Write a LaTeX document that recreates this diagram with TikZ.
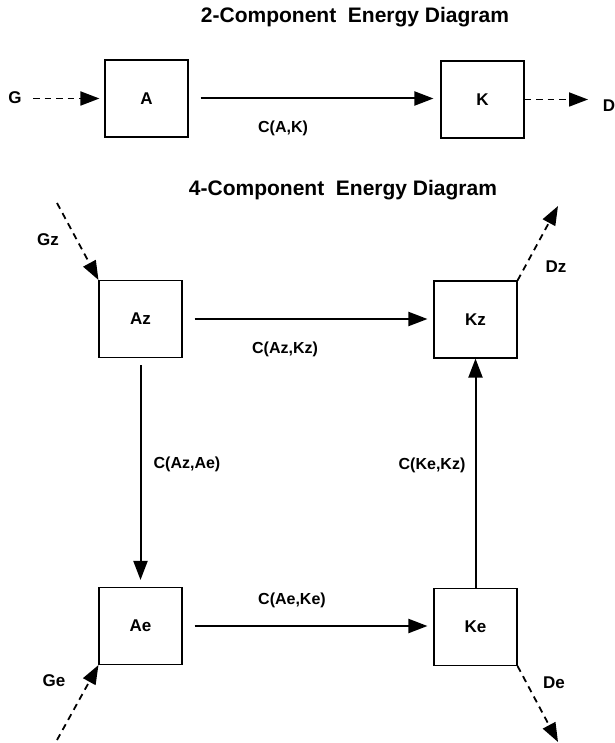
\documentclass[tikz,border=0pt]{standalone}
\usepackage{fontspec}
\setmainfont{Liberation Sans}
\usepackage{tikz}
\usetikzlibrary{positioning,arrows.meta}
\newcommand{\titlefont}{\fontsize{21}{25}\selectfont\bfseries}
\newcommand{\labfont}{\fontsize{17}{20}\selectfont\bfseries}
\newcommand{\cfont}{\fontsize{16}{19}\selectfont\bfseries}

\begin{document}
\begin{tikzpicture}[
                x=1pt, y=-1pt,
                >={Triangle[length=19pt, width=14pt]},
                comp/.style={draw, line width=1.1pt, minimum width=83pt, minimum height=77pt, inner sep=0pt, font=\labfont},
                endlabel/.style={font=\labfont, inner sep=0pt},
                clabel/.style={font=\cfont, inner sep=0pt},
                heading/.style={font=\titlefont, inner sep=0pt},
                flow/.style={->, line width=2pt},
                flowdash/.style={->, line width=1.8pt, dash pattern=on 6.5pt off 5pt}
                ]
                \useasboundingbox (0,0) rectangle (614,743);

                % 2-component diagram
                \node[heading] (title2) at (355,17) {2-Component\ \ Energy Diagram};
                \node[comp] (A) at (146.5,98.5) {A};
                \node[comp] (K) at (482.5,99.5) {K};
                \node[endlabel] (G) at (15,98) {G};
                \node[endlabel] (D) at (609,106) {D};
                \coordinate (gin) at (33,98.5);
                \coordinate (dout) at (588,99.5);
                \node[clabel] (cak) at (283,128) {C(A,K)};

                \draw[flowdash, shorten >=5pt] (gin) -- (A.west);
                \draw[flow, shorten <=12pt, shorten >=7pt] (A.east) -- (K.west |- A.east);
                \draw[flowdash] (K.east) -- (dout);

                % 4-component diagram
                \node[heading] (title4) at (343,190) {4-Component\ \ Energy Diagram};
                \node[comp] (Az) at (140.5,319) {Az};
                \node[comp] (Kz) at (475.5,319.5) {Kz};
                \node[comp] (Ae) at (140.5,626) {Ae};
                \node[comp] (Ke) at (475.5,627) {Ke};

                \node[endlabel] (Gz) at (48,240) {Gz};
                \node[endlabel] (Dz) at (556,267) {Dz};
                \node[endlabel] (Ge) at (54,681) {Ge};
                \node[endlabel] (De) at (554,683) {De};
                \coordinate (gzin) at (57,203);
                \coordinate (dzout) at (558,206);
                \coordinate (gein) at (57,740);
                \coordinate (deout) at (558,742);

                \node[clabel] (cazkz) at (285,349) {C(Az,Kz)};
                \node[clabel] (cazae) at (187,464) {C(Az,Ae)};
                \node[clabel] (ckekz) at (432,465) {C(Ke,Kz)};
                \node[clabel] (caeke) at (292,600) {C(Ae,Ke)};

                \draw[flow, shorten <=12pt, shorten >=6pt] (Az.east) -- (Kz.west |- Az.east);
                \draw[flow, shorten <=12pt, shorten >=6pt] (Ae.east) -- (Ke.west |- Ae.east);
                \draw[flow, shorten <=7pt, shorten >=7pt] (Az.south) -- (Ae.north);
                \draw[flow] (Ke.north) -- (Kz.south);

                \draw[flowdash] (gzin) -- (Az.north west);
                \draw[flowdash] (Kz.north east) -- (dzout);
                \draw[flowdash] (gein) -- (Ae.south west);
                \draw[flowdash] (Ke.south east) -- (deout);
            \end{tikzpicture}
\end{document}
